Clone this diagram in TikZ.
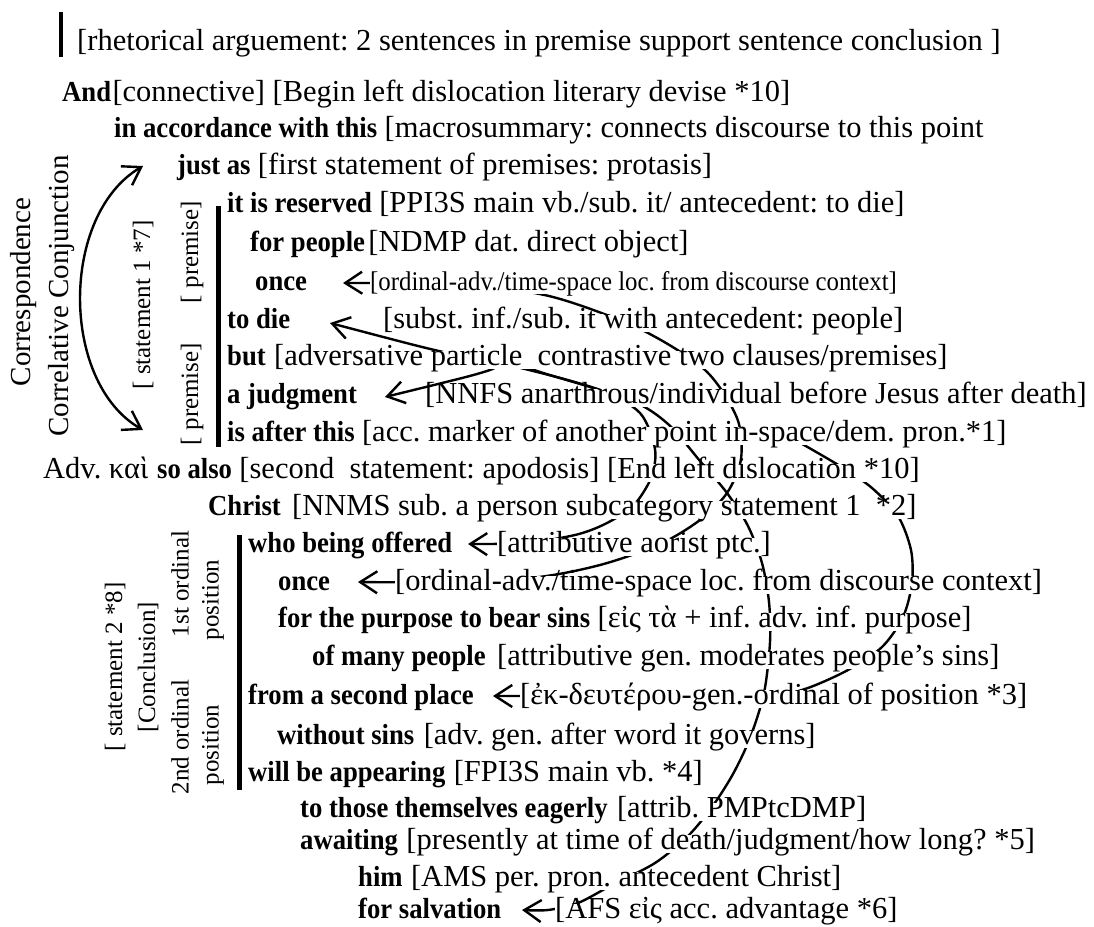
\documentclass[tikz,border=0pt]{standalone}
\usepackage{fontspec}
\setmainfont{Liberation Serif}
\newfontfamily\narrowserif[FakeStretch=0.92]{Liberation Serif}
\usetikzlibrary{arrows.meta,calc,backgrounds}
\newcommand\glossfont{\fontsize{30.5}{36}\selectfont}
\newcommand\smallglossfont{\fontsize{27}{32}\selectfont\narrowserif}
\newcommand\wordfont{\fontsize{29}{34}\selectfont\narrowserif\bfseries}
\newcommand\vlabfont{\fontsize{25}{30}\selectfont}
\newcommand\sidefont{\fontsize{29}{34}\selectfont}
\frenchspacing

\begin{document}
\begin{tikzpicture}[x=1pt,y=-1pt,
  gloss/.style={anchor=base west, inner sep=0pt, fill=white, text height=14pt, text depth=4pt, font=\glossfont},
  word/.style={gloss, font=\wordfont},
  vlabel/.style={rotate=90, inner sep=0pt, font=\vlabfont},
  side/.style={rotate=90, inner sep=0pt, font=\sidefont},
  conn/.style={line width=2.4pt, line cap=round, line join=round, >={Straight Barb[length=17pt,width=22pt]}},
  rulebar/.style={line width=5pt},
]
\path[use as bounding box] (0,0) rectangle (1094,926);

% heading note
\draw[rulebar, line width=3.5pt] (61,12) -- (61,57);
\node[gloss] (g0) at (77,50) {[rhetorical arguement: 2 sentences in premise support sentence conclusion ]};

% statement 1
\node[word] (w1) at (62,101) {And};
\node[gloss] (g1) at ($(w1.base east)+(1,0)$) {[connective] [Begin left dislocation literary devise *10]};
\node[word] (w2) at (114,137) {in accordance with this};
\node[gloss] (g2) at ($(w2.base east)+(7,0)$) {[macrosummary: connects discourse to this point};
\node[word] (w3) at (177,174) {just as};
\node[gloss] (g3) at ($(w3.base east)+(7,0)$) {[first statement of premises: protasis]};
\node[word] (w4) at (227,212) {it is reserved};
\node[gloss] (g4) at ($(w4.base east)+(7,0)$) {[PPI3S main vb./sub. it/ antecedent: to die]};
\node[word] (w5) at (250,251) {for people};
\node[gloss] (g5) at ($(w5.base east)+(3,0)$) {[NDMP dat. direct object]};
\node[word] (w6) at (255,290) {once};
\node[gloss, font=\smallglossfont] (g6) at (370,290) {[ordinal-adv./time-space loc. from discourse context]};
\node[word] (w7) at (227,328) {to die};
\node[gloss] (g7) at (383,328) {[subst. inf./sub. it with antecedent: people]};
\node[word] (w8) at (227,365) {but};
\node[gloss] (g8) at ($(w8.base east)+(8,0)$) {[adversative particle\ \ contrastive two clauses/premises]};
\node[word] (w9) at (227,403) {a judgment};
\node[gloss] (g9) at (425,403) {[NNFS anarthrous/individual before Jesus after death]};
\node[word] (w10) at (227,441) {is after this};
\node[gloss] (g10) at ($(w10.base east)+(7,0)$) {[acc. marker of another point in-space/dem. pron.*1]};

% statement 2
\node[gloss] (adv) at (43,478) {Adv. καὶ};
\node[word] (w11) at (157,478) {so also};
\node[gloss] (g11) at ($(w11.base east)+(7,0)$) {[second\ \ statement: apodosis] [End left dislocation *10]};
\node[word] (w12) at (208,515) {Christ};
\node[gloss] (g12) at (292,515) {[NNMS sub. a person subcategory statement 1\ \ *2]};
\node[word] (w13) at (248,552) {who being offered};
\node[gloss] (g13) at (497,552) {[attributive aorist ptc.]};
\node[word] (w14) at (278,590) {once};
\node[gloss] (g14) at (395,590) {[ordinal-adv./time-space loc. from discourse context]};
\node[word] (w15) at (278,627) {for the purpose to bear sins};
\node[gloss] (g15) at ($(w15.base east)+(7,0)$) {[εἰς τὰ + inf. adv. inf. purpose]};
\node[word] (w16) at (312,665) {of many people};
\node[gloss] (g16) at (497,665) {[attributive gen. moderates people’s sins]};
\node[word] (w17) at (248,704) {from a second place};
\node[gloss] (g17) at (520,704) {[ἐκ-δευτέρου-gen.-ordinal of position *3]};
\node[word] (w18) at (277,744) {without sins};
\node[gloss] (g18) at ($(w18.base east)+(9,0)$) {[adv. gen. after word it governs]};
\node[word] (w19) at (248,781) {will be appearing};
\node[gloss] (g19) at ($(w19.base east)+(8,0)$) {[FPI3S main vb. *4]};
\node[word] (w20) at (300,817) {to those themselves eagerly};
\node[gloss] (g20) at ($(w20.base east)+(9,0)$) {[attrib. PMPtcDMP]};
\node[word] (w21) at (300,849) {awaiting};
\node[gloss] (g21) at ($(w21.base east)+(8,0)$) {[presently at time of death/judgment/how long? *5]};
\node[word] (w22) at (358,886) {him};
\node[gloss] (g22) at ($(w22.base east)+(8,0)$) {[AMS per. pron. antecedent Christ]};
\node[word] (w23) at (358,918) {for salvation};
\node[gloss] (g23) at (555,918) {[AFS εἰς acc. advantage *6]};

% side labels and rules
\node[side] (corr) at (24,292) {Correspondence};
\node[side] (corrconj) at (62,296) {Correlative Conjunction};
\node[vlabel] (st1) at (143,305) {[ statement 1 *7]};
\node[vlabel] (pr1) at (192,252) {[ premise]};
\node[vlabel] (pr2) at (192,394) {[ premise]};
\draw[rulebar] (218,206) -- (218,447);
\node[vlabel] (st2) at (115,667) {[ statement 2 *8]};
\node[vlabel] (concl) at (148,667) {[Conclusion]};
\node[vlabel] (ord1) at (180,584) {1st ordinal};
\node[vlabel] (ord2) at (180,737) {2nd ordinal};
\node[vlabel] (pos1) at (213,600) {position};
\node[vlabel] (pos2) at (213,745) {position};
\draw[rulebar] (239,535) -- (239,790);

% arrow ends
\coordinate (la1) at (143,166);
\coordinate (la2) at (143,430);
\coordinate (t6) at (343,283);
\coordinate (t7) at (330,323);
\coordinate (t9) at (385,397);
\coordinate (t13) at (468,544);
\coordinate (t14) at (358,582);
\coordinate (t17) at (493,696);
\coordinate (t23) at (522,910);

\begin{pgfonlayer}{background}
  % correlative pair
  \draw[conn,<->] (la1) .. controls (60,215) and (60,382) .. (la2);
  % to die -- who being offered
  \draw[conn,<->] plot[smooth,tension=0.5] coordinates {(t7) (443,352) (525,369) (600,390) (640,413) (655,449) (651,478) (633,506) (605,524) (575,535) (525,543) (t13)};
  % a judgment -- for salvation
  \draw[conn,<->] plot[smooth,tension=0.5] coordinates {(t9) (487,371) (506,360) (540,372) (630,400) (668,424) (700,461) (727,493) (748,526) (762,563) (769,602) (770,642) (764,693) (750,738) (733,774) (712,807) (688,836) (655,863) (612,885) (578,903) (548,910) (t23)};
  % once -- once
  \draw[conn,<->] plot[smooth,tension=0.5] coordinates {(t6) (380,283) (470,285) (553,297) (640,329) (705,370) (737,418) (741,459) (727,493) (700,520) (660,544) (600,565) (530,578) (420,582) (t14)};
  % point in space -- second place
  \draw[conn,->] plot[smooth,tension=0.5] coordinates {(790,437) (840,466) (872,488) (898,516) (911,550) (912,583) (903,617) (882,647) (848,670) (805,689) (765,697) (700,697) (600,696) (540,696) (t17)};
\end{pgfonlayer}
\end{tikzpicture}
\end{document}
